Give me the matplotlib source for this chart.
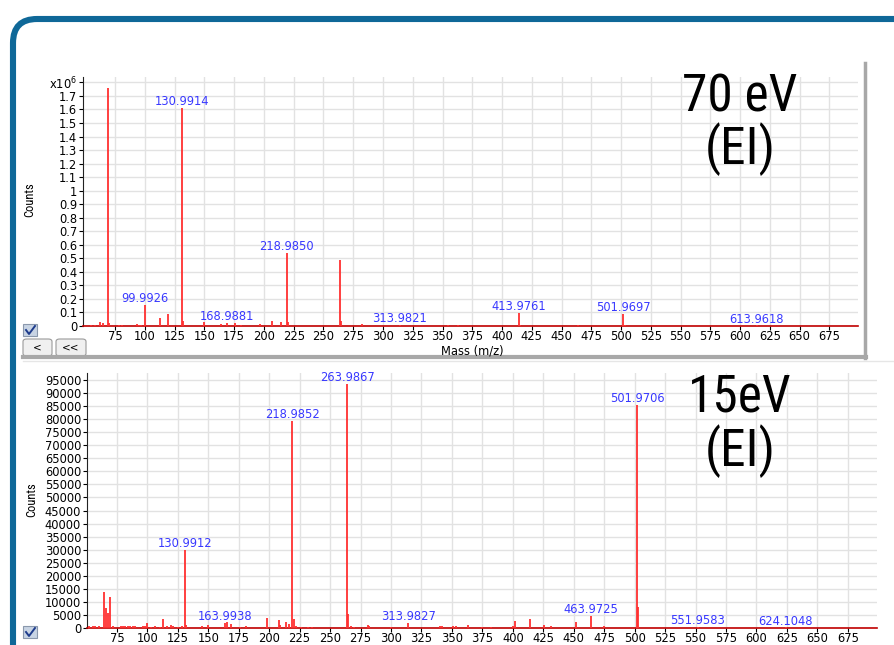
import matplotlib
matplotlib.use("Agg")
import matplotlib.pyplot as plt
from matplotlib import font_manager
from matplotlib.patches import FancyBboxPatch, Rectangle
from matplotlib.lines import Line2D

# ---------------- data ----------------
# 70 eV (EI) spectrum
mz_70 = [55, 58, 62, 65, 68.995, 70, 78, 81, 93, 95, 97, 99.9926, 112.99, 118.99,
         130.9914, 131.99, 149.99, 163.99, 168.9881, 175.99, 180.99, 196.99,
         206.99, 213.99, 218.985, 219.99, 263.98, 264.99, 281.98, 313.9821,
         355.0, 363.0, 413.9761, 414.98, 463.97, 501.9697, 502.97, 613.9618]
counts_70 = [8000, 7000, 30000, 20000, 1760000, 20000, 10000, 10000, 12000, 10000, 10000,
             155000, 62000, 90000, 1610000, 40000, 30000, 12000, 25000, 22000, 10000,
             14000, 35000, 27000, 540000, 30000, 490000, 40000, 14000, 6000,
             5000, 6000, 95000, 8000, 8000, 90000, 10000, 4000]
labels_70 = ["99.9926", "130.9914", "168.9881", "218.9850", "313.9821",
             "413.9761", "501.9697", "613.9618"]
label_mz_70 = [99.9926, 130.9914, 168.9881, 218.985, 313.9821, 413.9761, 501.9697, 613.9618]

# 15 eV (EI) spectrum
mz_15 = [52, 55, 57, 60, 64, 66, 68, 69, 72, 78, 80, 82, 84, 86, 88, 90, 96, 98, 100,
         103, 106, 110, 113, 116, 119, 121, 125, 128, 130.9912, 132, 145, 150,
         163.9938, 165, 169, 176, 181, 198, 208, 209, 214, 216, 218.9852, 220,
         222, 226, 232, 235, 263.9867, 265, 267, 270, 281, 282, 300, 313.9827,
         340, 342, 351, 353, 363, 375, 382, 400, 401.97, 413.97, 426, 431,
         451.97, 463.9725, 475, 501.9706, 502.97, 551.9583, 624.1048]
counts_15 = [600, 700, 600, 700, 13700, 7700, 5800, 11700, 600, 600, 700, 800, 700, 700,
             600, 700, 600, 800, 1900, 500, 600, 500, 3300, 600, 1200, 800, 500, 600,
             30000, 1300, 700, 1000, 2000, 2300, 1500, 500, 600, 3900, 3000, 1000,
             2300, 1500, 79400, 3400, 600, 500, 500, 400, 93500, 5300, 700, 500,
             1000, 800, 400, 2000, 700, 600, 800, 800, 1300, 500, 500, 800, 2700,
             3300, 1000, 700, 2300, 4700, 600, 85400, 8000, 300, 200]
labels_15 = ["130.9912", "163.9938", "218.9852", "263.9867", "313.9827",
             "463.9725", "501.9706", "551.9583", "624.1048"]
label_mz_15 = [130.9912, 163.9938, 218.9852, 263.9867, 313.9827, 463.9725,
               501.9706, 551.9583, 624.1048]

x_ticks = list(range(75, 676, 25))
y_ticks_70 = [i * 100000 for i in range(19)]
y_ticklabels_70 = ["0", "0.1", "0.2", "0.3", "0.4", "0.5", "0.6", "0.7", "0.8", "0.9",
                   "1", "1.1", "1.2", "1.3", "1.4", "1.5", "1.6", "1.7", "x10$^{6}$"]
y_ticks_15 = list(range(0, 95001, 5000))

# ---------------- style ----------------
W, H = 895, 645
fig = plt.figure(figsize=(W / 100, H / 100), dpi=100)
fig.patch.set_facecolor("white")

names = {f.name for f in font_manager.fontManager.ttflist}
cond = "DejaVu Sans"
for cand in ["Roboto Condensed", "Liberation Sans Narrow", "DejaVu Sans Condensed",
             "Open Sans Condensed", "Roboto"]:
    if cand in names:
        cond = cand
        break

RED = "#ff3030"
BLUE = "#3838ff"
GRID = "#e2e2e2"
FS = 8.3


def fx(px):
    return px / W


def fy(py):
    return 1 - py / H


def style_axes(ax, xlim, ylim, yticks, yticklabels, xpad):
    ax.set_xlim(*xlim)
    ax.set_ylim(*ylim)
    ax.set_xticks(x_ticks)
    ax.set_xticklabels([str(v) for v in x_ticks], fontsize=FS)
    ax.set_yticks(yticks)
    ax.set_yticklabels(yticklabels, fontsize=FS)
    ax.grid(True, color=GRID, linewidth=1.0)
    ax.set_axisbelow(True)
    for s in ["top", "right"]:
        ax.spines[s].set_visible(False)
    ax.spines["left"].set_color("#222222")
    ax.spines["bottom"].set_color("#c00000")
    ax.spines["bottom"].set_linewidth(1.2)
    ax.tick_params(axis="both", direction="out", length=3, width=0.8,
                   pad=1.2, colors="black")
    ax.tick_params(axis="x", length=2.6, pad=xpad)


def draw_spectrum(ax, mz, counts, lab_mz, labs):
    ax.vlines(mz, 0, counts, colors=RED, linewidth=1.3, zorder=3)
    lookup = dict(zip(mz, counts))
    for m, t in zip(lab_mz, labs):
        c = lookup.get(m, 0)
        ax.annotate(t, (m, c), xytext=(0, 2.0), textcoords="offset points",
                    ha="center", va="baseline", color=BLUE, fontsize=FS, zorder=4)


# top panel
ax1 = fig.add_axes([fx(83), fy(326), fx(858 - 83), (326 - 77) / H])
style_axes(ax1, (48, 699), (0, 1840000), y_ticks_70, y_ticklabels_70, 0.6)
draw_spectrum(ax1, mz_70, counts_70, label_mz_70, labels_70)

# bottom panel
ax2 = fig.add_axes([fx(87), fy(628), fx(877 - 87), (628 - 373) / H])
style_axes(ax2, (50.4, 699), (0, 97700), y_ticks_15, [str(v) for v in y_ticks_15], 0.3)
draw_spectrum(ax2, mz_15, counts_15, label_mz_15, labels_15)

# axis titles
fig.text(fx(472), fy(351), "Mass (m/z)", ha="center", va="center", fontsize=8.3)
fig.text(fx(30), fy(200), "Counts", ha="center", va="center", rotation=90,
         fontsize=9, family=cond)
fig.text(fx(32), fy(500), "Counts", ha="center", va="center", rotation=90,
         fontsize=9, family=cond)

# big annotations
big = dict(ha="center", va="baseline", fontsize=37, family=cond, color="black")
fig.text(fx(740), fy(112), "70 eV", **big)
fig.text(fx(740), fy(164), "(EI)", **big)
fig.text(fx(740), fy(412), "15eV", **big)
fig.text(fx(740), fy(466), "(EI)", **big)

# window shadows / separators
fig.add_artist(Line2D([fx(865), fx(865)], [fy(63), fy(358)], color="#a8a8a8", lw=2.5))
fig.add_artist(Line2D([fx(23), fx(866)], [fy(357), fy(357)], color="#a8a8a8", lw=3))
fig.add_artist(Line2D([fx(23), fx(895)], [fy(361), fy(361)], color="#e6e6e6", lw=1))

# checkboxes and buttons
for cy in (330, 632):
    fig.add_artist(Rectangle((fx(23), fy(cy + 6)), fx(14), 12 / H, facecolor="#c8d4e4",
                             edgecolor="#8a98ac", lw=0.8))
    fig.add_artist(Line2D([fx(26), fx(29), fx(35)], [fy(cy), fy(cy + 4), fy(cy - 4)],
                          color="#1e3c8c", lw=1.4))
for x0, x1, t in ((23, 52, "<"), (56, 86, "<<")):
    fig.add_artist(FancyBboxPatch((fx(x0), fy(356)), fx(x1 - x0), 17 / H,
                                  boxstyle="round,pad=0,rounding_size=0.004",
                                  facecolor="#f0f0f0", edgecolor="#9a9a9a", lw=0.8))
    fig.text(fx((x0 + x1) / 2), fy(347.5), t, ha="center", va="center", fontsize=7.5)

# blue rounded frame (centre line at x=13 px, y=19 px from the top)
frame = FancyBboxPatch((0.13, -0.6), 9.4, 6.26 + 0.6,
                       boxstyle="round,pad=0,rounding_size=0.24",
                       transform=fig.dpi_scale_trans, facecolor="none",
                       edgecolor="#0f6898", lw=4.4, zorder=10)
fig.add_artist(frame)

fig.savefig("out.png", dpi=100, facecolor="white")
